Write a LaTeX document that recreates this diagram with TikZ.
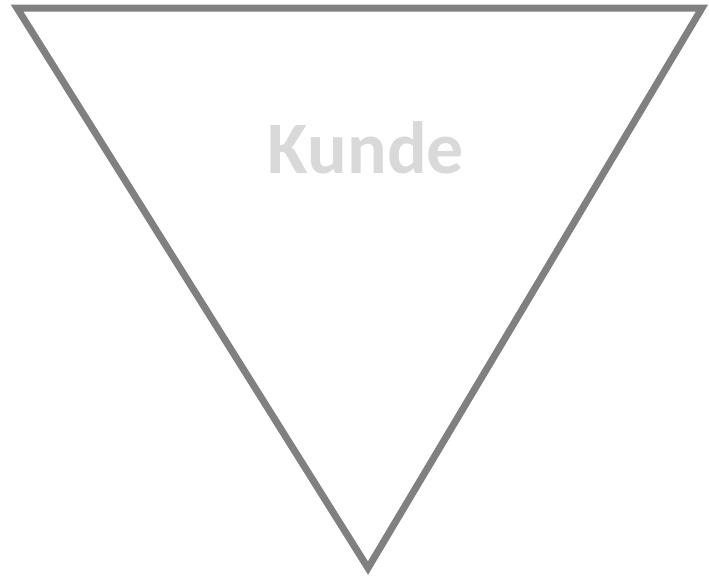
\documentclass[tikz,border=0pt]{standalone}
\usepackage{fontspec}
\setmainfont{Carlito}
\definecolor{edgegray}{HTML}{808080}
\definecolor{textgray}{HTML}{D9D9D9}
\tikzset{
  tri/.style={draw=edgegray, line width=7pt, line join=miter},
  label/.style={text=textgray, font=\fontsize{74}{80}\selectfont\bfseries, inner sep=0pt, anchor=base}
}
\begin{document}
\begin{tikzpicture}[x=1pt,y=-1pt]
\useasboundingbox (0,0) rectangle (709,576);
\coordinate (tl) at (17,8);
\coordinate (tr) at (702,8);
\coordinate (bt) at (368,568);
\draw[tri] (tl) -- (tr) -- (bt) -- cycle;
\node[label] (kunde) at (366,173) {Kunde};
\end{tikzpicture}
\end{document}
